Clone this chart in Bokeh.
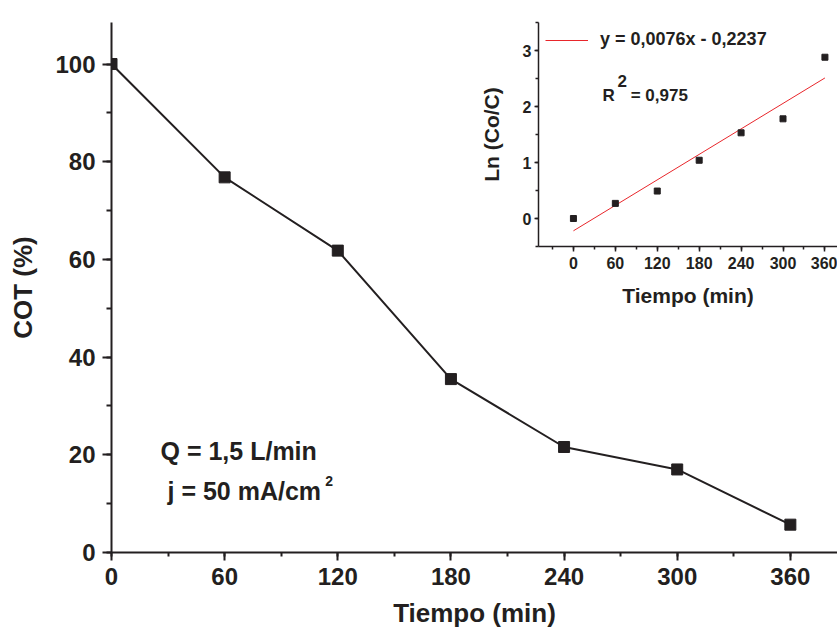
from bokeh.plotting import figure
from bokeh.models import Range1d, SingleIntervalTicker, Label, Legend, LegendItem, GridBox
from bokeh.embed import file_html
from bokeh.resources import INLINE

# ---- data ----
time_min = [0, 60, 120, 180, 240, 300, 360]
cot_pct = [100, 76.8, 61.8, 35.5, 21.6, 17.0, 5.7]
ln_co_c = [0.0, 0.27, 0.49, 1.04, 1.53, 1.78, 2.88]
fit_x = [0, 360]
fit_y = [-0.22, 2.51]
eq_label = "y = 0,0076x - 0,2237"
r2_text = "R"
r2_sup = "2"
r2_value = "= 0,975"
cond_q = "Q = 1,5 L/min"
cond_j = "j = 50 mA/cm"
cond_j_sup = "2"
main_xlabel = "Tiempo (min)"
main_ylabel = "COT (%)"
inset_xlabel = "Tiempo (min)"
inset_ylabel = "Ln (Co/C)"

FONT = "Liberation Sans"
INK = "#231f20"


def style_axis(ax, tick_size, label_size, major_out, minor_out, lstand, tstand, lw):
    ax.axis_line_color = INK
    ax.axis_line_width = lw
    ax.major_tick_line_color = INK
    ax.minor_tick_line_color = INK
    ax.major_tick_line_width = lw
    ax.minor_tick_line_width = lw
    ax.major_tick_in = 0
    ax.minor_tick_in = 0
    ax.major_tick_out = major_out
    ax.minor_tick_out = minor_out
    ax.major_label_text_font = FONT
    ax.major_label_text_font_style = "bold"
    ax.major_label_text_font_size = tick_size
    ax.major_label_text_color = INK
    ax.major_label_standoff = tstand
    ax.axis_label_text_font = FONT
    ax.axis_label_text_font_style = "bold"
    ax.axis_label_text_font_size = label_size
    ax.axis_label_text_color = INK
    ax.axis_label_standoff = lstand


# ---- main chart ----
p = figure(title=None, frame_width=726, frame_height=530,
           min_border_left=111, min_border_right=0, min_border_top=6, min_border_bottom=92,
           x_range=Range1d(0, 385), y_range=Range1d(0, 108.5),
           output_backend="svg", toolbar_location=None)
p.grid.visible = False
p.outline_line_color = None
p.background_fill_color = "white"
p.border_fill_color = "white"

p.xaxis.ticker = SingleIntervalTicker(interval=60, num_minor_ticks=2)
p.yaxis.ticker = SingleIntervalTicker(interval=20, num_minor_ticks=2)
p.xaxis.axis_label = main_xlabel
p.yaxis.axis_label = main_ylabel
style_axis(p.xaxis[0], "24px", "26px", 8, 4, 10, 7, 2)
style_axis(p.yaxis[0], "24px", "26px", 9, 5, 14, 7, 2)

p.line(time_min, cot_pct, line_width=2, line_color=INK)
p.scatter(time_min, cot_pct, marker="square", size=11, fill_color=INK, line_color=INK)

for txt, x, y, size in [(cond_q, 26, 20.8, "25px"), (cond_j, 29.7, 12.6, "25px"),
                        (cond_j_sup, 113.4, 14.7, "14px")]:
    p.add_layout(Label(x=x, y=y, text=txt, text_font=FONT, text_font_style="bold",
                       text_font_size=size, text_color=INK, text_baseline="alphabetic"))

# ---- inset ----
q = figure(title=None, frame_width=299, frame_height=224,
           min_border_left=68, min_border_right=0, min_border_top=22, min_border_bottom=64,
           x_range=Range1d(-50, 378), y_range=Range1d(-0.5, 3.5),
           output_backend="svg", toolbar_location=None)
q.grid.visible = False
q.outline_line_color = None
q.background_fill_alpha = 0
q.border_fill_alpha = 0
q.xaxis.ticker = SingleIntervalTicker(interval=60, num_minor_ticks=2)
q.yaxis.ticker = SingleIntervalTicker(interval=1, num_minor_ticks=2)
q.xaxis.axis_label = inset_xlabel
q.yaxis.axis_label = inset_ylabel
style_axis(q.xaxis[0], "16px", "21px", 5, 3, 12, 5, 1.5)
style_axis(q.yaxis[0], "16px", "21px", 4, 3, 17, 3, 1.5)

fit = q.line(fit_x, fit_y, line_width=1, line_color="#e8262b")
q.scatter(time_min, ln_co_c, marker="square", size=6, fill_color=INK, line_color=INK)

leg = Legend(items=[LegendItem(label=eq_label, renderers=[fit])], location="top_left",
             margin=0, padding=7, glyph_width=43, glyph_height=20, label_height=20,
             label_standoff=12, label_text_font=FONT, label_text_font_style="bold",
             label_text_font_size="18px", label_text_color=INK,
             background_fill_alpha=0, border_line_alpha=0)
q.add_layout(leg)

for txt, x, y, size in [(r2_text, 41.5, 2.2, "17px"), (r2_sup, 63, 2.45, "17px"),
                        (r2_value, 82, 2.2, "17px")]:
    q.add_layout(Label(x=x, y=y, text=txt, text_font=FONT, text_font_style="bold",
                       text_font_size=size, text_color=INK, text_baseline="alphabetic"))

grid = GridBox(children=[(p, 0, 0, 2, 2), (q, 0, 1)],
               rows=["310px", "334px"], cols=["470px", "367px"], spacing=0)

open("out.html", "w").write(file_html(grid, INLINE))
